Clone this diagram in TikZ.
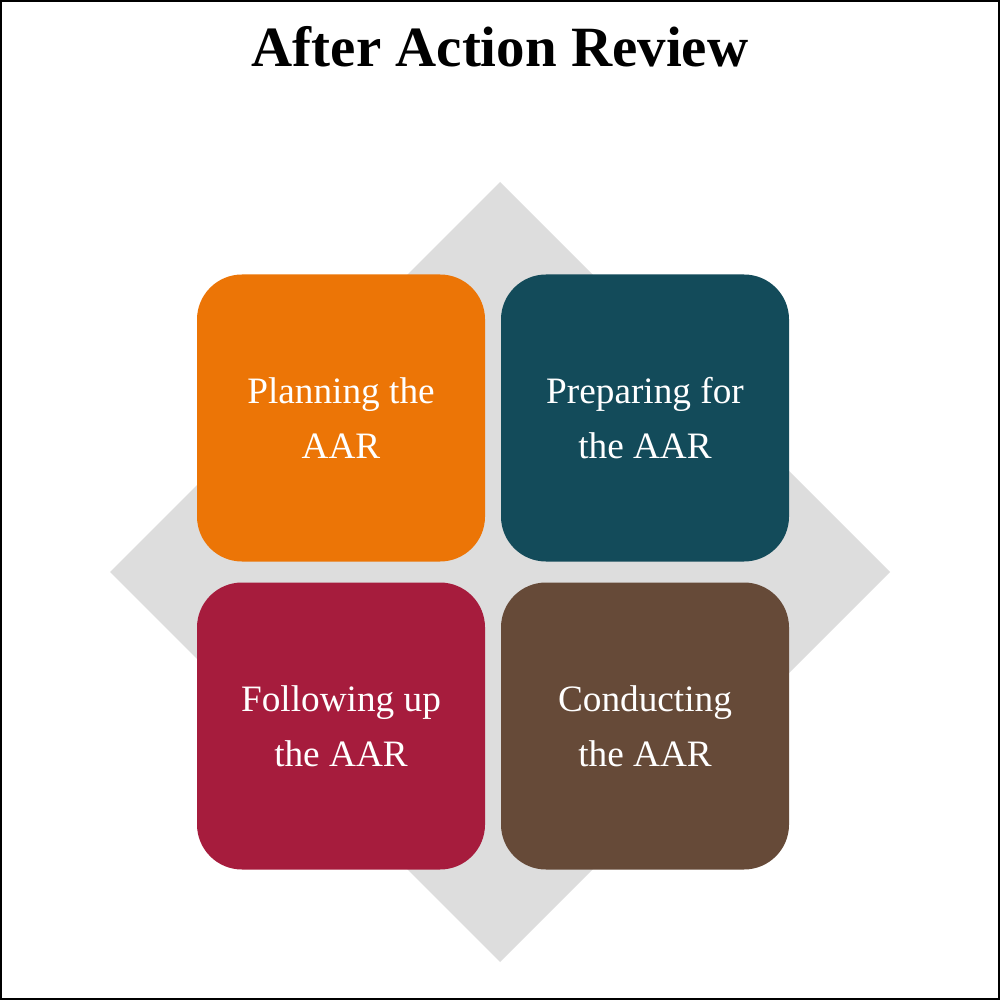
\documentclass[tikz,border=0pt]{standalone}
\usepackage{fontspec}
\setmainfont{Liberation Serif}
\definecolor{cOrange}{HTML}{EC7506}
\definecolor{cTeal}{HTML}{134B5A}
\definecolor{cCrimson}{HTML}{A61C3D}
\definecolor{cBrown}{HTML}{664A38}
\definecolor{cGrey}{HTML}{DDDDDD}
\begin{document}
\begin{tikzpicture}[x=1cm,y=1cm,
  card/.style={rounded corners=0.45cm, minimum width=2.88cm, minimum height=2.87cm,
    inner sep=0pt, text=white, align=center,
    font=\fontsize{10.6}{15.6}\selectfont},
  titletext/.style={font=\fontsize{16.2}{19}\selectfont\bfseries}]
\useasboundingbox (0,0) rectangle (10,-10);
\fill[white] (0,0) rectangle (10,-10);
\draw[line width=0.6pt] (0.01,-0.01) rectangle (9.99,-9.99);
\node[titletext, anchor=base] (title) at (5,-0.67) {After Action Review};
% grey diamond
\fill[cGrey] (5,-1.82) -- (8.9,-5.72) -- (5,-9.62) -- (1.1,-5.72) -- cycle;
% cards
\node[card, fill=cOrange] (plan) at (3.41,-4.18) {Planning the\\AAR};
\node[card, fill=cTeal] (prep) at (6.45,-4.18) {Preparing for\\the AAR};
\node[card, fill=cCrimson] (follow) at (3.41,-7.26) {Following up\\the AAR};
\node[card, fill=cBrown] (cond) at (6.45,-7.26) {Conducting\\the AAR};
\end{tikzpicture}
\end{document}
